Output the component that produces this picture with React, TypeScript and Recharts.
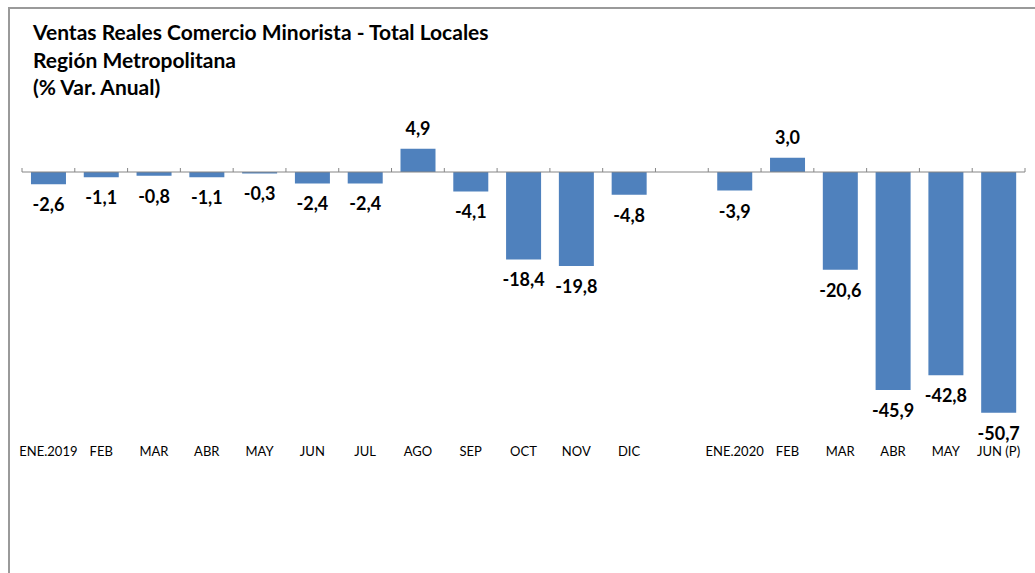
import { BarChart, Bar, XAxis, YAxis, ReferenceLine, LabelList } from 'recharts'

// categorias (la posicion vacia separa 2019 de 2020)
const MESES = [
  'ENE.2019', 'FEB', 'MAR', 'ABR', 'MAY', 'JUN', 'JUL', 'AGO', 'SEP', 'OCT', 'NOV', 'DIC',
  '',
  'ENE.2020', 'FEB', 'MAR', 'ABR', 'MAY', 'JUN (P)',
]

const VARIACION: (number | null)[] = [
  -2.6, -1.1, -0.8, -1.1, -0.3, -2.4, -2.4, 4.9, -4.1, -18.4, -19.8, -4.8,
  null,
  -3.9, 3.0, -20.6, -45.9, -42.8, -50.7,
]

const TITULO = [
  'Ventas Reales Comercio Minorista - Total Locales',
  'Región Metropolitana',
  '(% Var. Anual)',
]

const FONT = 'Lato, "Open Sans", sans-serif'
const AZUL = '#4F81BD'

const data = MESES.map((mes, i) => ({ id: i, mes, valor: VARIACION[i] }))

const fmt = (v: number) => v.toFixed(1).replace('.', ',')

function ValorLabel(props: any) {
  const { x, y, width, height, value } = props
  if (value == null) return null
  const top = Math.min(y, y + height)
  const bottom = Math.max(y, y + height)
  const cy = value >= 0 ? top - 21 : bottom + 20
  return (
    <text
      x={x + width / 2}
      y={cy}
      textAnchor="middle"
      dominantBaseline="central"
      fontFamily={FONT}
      fontWeight={700}
      fontSize={18}
      fill="#000"
    >
      {fmt(value)}
    </text>
  )
}

function MesTick(props: any) {
  const { x, y, payload } = props
  const label = MESES[payload.value] ?? ''
  return (
    <text x={x} y={y} dy={15} textAnchor="middle" fontFamily={FONT} fontSize={13} fill="#000">
      {label}
    </text>
  )
}

// linea del cero con marcas hacia arriba entre categorias
function EjeCero(props: any) {
  const { x1, y1, x2 } = props
  const n = MESES.length
  const step = (x2 - x1) / n
  const marks = []
  for (let i = 0; i <= n; i++) {
    const mx = x1 + i * step
    marks.push(<line key={i} x1={mx} x2={mx} y1={y1} y2={y1 - 4} stroke="#868686" strokeWidth={1} />)
  }
  return (
    <g>
      <line x1={x1} x2={x2} y1={y1} y2={y1} stroke="#868686" strokeWidth={1.2} />
      {marks}
    </g>
  )
}

export default function App() {
  return (
    <div style={{ position: 'fixed', left: 0, top: 0, width: 1035, height: 573, background: '#fff', overflow: 'hidden' }}>
      <div
        style={{
          position: 'absolute',
          left: 8,
          top: 7,
          width: 1100,
          height: 700,
          borderLeft: '2px solid #9a9a9a',
          borderTop: '2px solid #9a9a9a',
        }}
      />
      <div style={{ position: 'absolute', left: 33, top: 18, fontFamily: FONT, fontWeight: 700, fontSize: 21, lineHeight: '27.5px', color: '#000' }}>
        {TITULO.map((t) => (
          <div key={t}>{t}</div>
        ))}
      </div>
      <div style={{ position: 'absolute', left: 0, top: 0 }}>
        <BarChart
          width={1035}
          height={573}
          data={data}
          margin={{ top: 124.5, right: 10, bottom: 109.75, left: 22 }}
          barCategoryGap="17%"
        >
          <XAxis
            dataKey="id"
            type="category"
            axisLine={false}
            tickLine={false}
            interval={0}
            height={30}
            tick={<MesTick />}
          />
          <YAxis hide domain={[-55, 10]} type="number" allowDataOverflow />
          <Bar dataKey="valor" fill={AZUL} isAnimationActive={false}>
            <LabelList dataKey="valor" content={<ValorLabel />} />
          </Bar>
          <ReferenceLine y={0} shape={<EjeCero />} />
        </BarChart>
      </div>
    </div>
  )
}
